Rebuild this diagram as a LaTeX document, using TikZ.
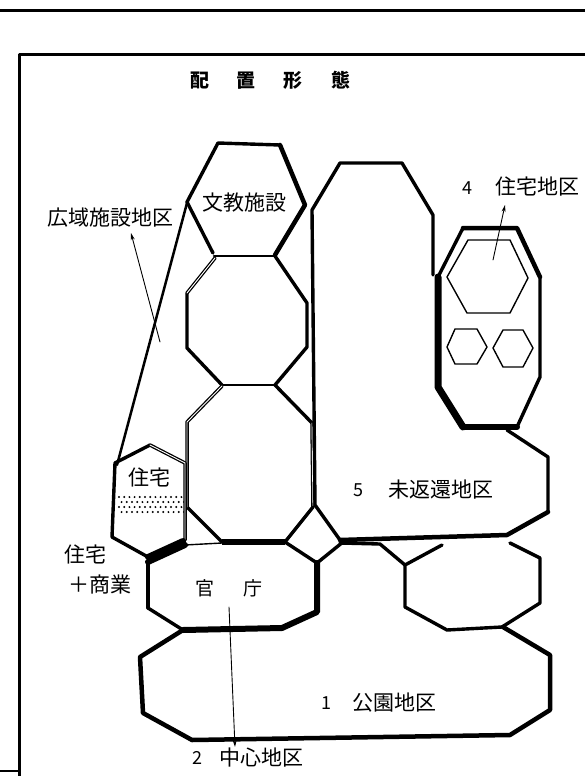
\documentclass[tikz,border=0pt]{standalone}
\usepackage{fontspec}
\newfontfamily\jp{Noto Sans CJK JP}
\usetikzlibrary{arrows.meta}
\begin{document}
\begin{tikzpicture}[x=1pt,y=-1pt,line join=round,line cap=round,
  edge/.style={line width=3.4pt},
  heavy/.style={line width=6pt},
  mid/.style={line width=4.5pt},
  dbl/.style={double,double distance=0.9pt,line width=1.3pt},
  fine/.style={line width=1.4pt},
  ptr/.style={line width=0.9pt,-{Stealth[length=7pt,width=4pt]}},
  lbl/.style={font=\jp\fontsize{21}{21}\selectfont,inner sep=0pt},
  num/.style={font=\jp\fontsize{18}{18}\selectfont,inner sep=0pt}]
\useasboundingbox (0,0) rectangle (585,782);
\fill[white] (0,0) rectangle (585,782);
% frame
\draw[line width=3pt,line cap=butt] (0,10) -- (585,10);
\draw[line width=3pt,line cap=butt] (585,54) -- (19,54) -- (19,776);
\draw[line width=2pt,line cap=butt] (0,771) -- (19,771);
% title
\node[font=\jp\bfseries\fontsize{19}{19}\selectfont,inner sep=0pt] (title) at (270,80) {配\hspace{28pt}置\hspace{28pt}形\hspace{28pt}態};
% wedge of the wide-area facilities district
\draw[line width=2.5pt] (187,203) -- (117,465);
% education hexagon
\draw[edge] (213,253) -- (187,202) -- (218,143) -- (280,145);
\draw[mid] (280,145) -- (305,205) -- (275,255);
\draw[line width=2.6pt] (214,256) -- (275,256);
% octagon 2
\draw[edge] (275,256) -- (307,303) -- (307,347) -- (275,385);
\draw[edge] (222,385) -- (187,348) -- (187,293);
\draw[dbl] (187,293) -- (215,258);
\draw[line width=2.6pt] (222,385) -- (275,385);
% octagon 3
\draw[edge] (275,385) -- (312,423);
\draw[dbl] (312,423) -- (313,507);
\draw[edge] (313,507) -- (285,542);
\draw[heavy,line cap=butt] (285,542) -- (222,542);
\draw[edge] (222,542) -- (187,507);
\draw[dbl] (187,507) -- (187,422) -- (222,386);
% housing + commerce hexagon
\foreach \r in {0,1,2,3} {
  \foreach \c in {0,...,12} {
    \fill ({119+\c*5.2+mod(\r,2)*2.6},{497+\r*5}) circle (1.1pt);
  }
}
\draw[edge] (148,557) -- (112,537) -- (115,463) -- (150,445);
\draw[dbl] (150,445) -- (185,463) -- (185,540);
\draw[heavy] (148,557) -- (183,541);
% government octagon
\draw[edge] (148,608) -- (148,562);
\draw[heavy] (148,562) -- (185,545);
\draw[fine] (185,545) -- (222,543);
\draw[edge] (285,542) -- (317,563);
\draw[heavy] (317,563) -- (317,612) -- (282,628) -- (183,630);
\draw[edge] (183,630) -- (148,608);
% 5 unreturned district
\draw[edge] (433,275) -- (433,215) -- (402,163) -- (340,163) -- (312,210) -- (315,505) -- (340,540);
\draw[mid] (340,540) -- (507,535) -- (548,512);
\draw[edge] (548,512) -- (548,457) -- (507,430);
% 4 residential district
\draw[mid] (463,228) -- (517,228) -- (540,277);
\draw[edge] (540,277) -- (540,377) -- (517,427);
\draw[heavy] (517,427) -- (463,427);
\draw[line width=7pt] (463,427) -- (438,387) -- (438,277);
\draw[edge] (438,277) -- (463,228);
\draw[fine] (468,240) -- (510,240) -- (528,278) -- (510,313) -- (467,313) -- (447,277) -- cycle;
\draw[fine] (455,329) -- (477,329) -- (487,347) -- (477,364) -- (455,364) -- (447,347) -- cycle;
\draw[fine] (503,330) -- (523,330) -- (533,348) -- (523,367) -- (503,367) -- (493,348) -- cycle;
% diamond and right octagon
\draw[edge] (343,542) -- (317,563);
\draw[edge] (340,543) -- (380,544) -- (405,565);
\draw[edge] (442,545) -- (405,565) -- (405,607) -- (447,630) -- (502,627) -- (540,603) -- (540,558) -- (510,543);
% 1 park district
\draw[mid] (183,630) -- (140,657) -- (143,713) -- (192,740) -- (510,735) -- (550,710) -- (550,655) -- (503,627);
% labels
\node[lbl] (kouiki) at (110,218) {広域施設地区};
\node[lbl] (bunkyo) at (244,203) {文教施設};
\node[num] (n4) at (467,188) {4};
\node[lbl] (jutaku4) at (537,187) {住宅地区};
\node[num] (n5) at (358,490) {5};
\node[lbl] (mihenkan) at (441,490) {未返還地区};
\node[lbl] (jutaku) at (149,477) {住宅};
\node[lbl] (jsh1) at (85,554) {住宅};
\node[lbl] (jsh2) at (100,585) {＋商業};
\node[font=\jp\fontsize{19}{19}\selectfont,inner sep=0pt] (kancho) at (229,588) {官\hspace{30pt}庁};
\node[num] (n1) at (326,703) {1};
\node[lbl] (kouen) at (394,703) {公園地区};
\node[num] (n2) at (197,758) {2};
\node[lbl] (chushin) at (261,758) {中心地区};
% pointers
\coordinate (p4a) at (493,260);
\coordinate (p4b) at (505,205);
\draw[ptr] (p4a) -- (p4b);
\coordinate (pka) at (160,342);
\coordinate (pkb) at (131,233);
\draw[ptr] (pka) -- (pkb);
\coordinate (pca) at (229,607);
\coordinate (pcb) at (235,747);
\draw[ptr] (pca) -- (pcb);
\end{tikzpicture}
\end{document}
